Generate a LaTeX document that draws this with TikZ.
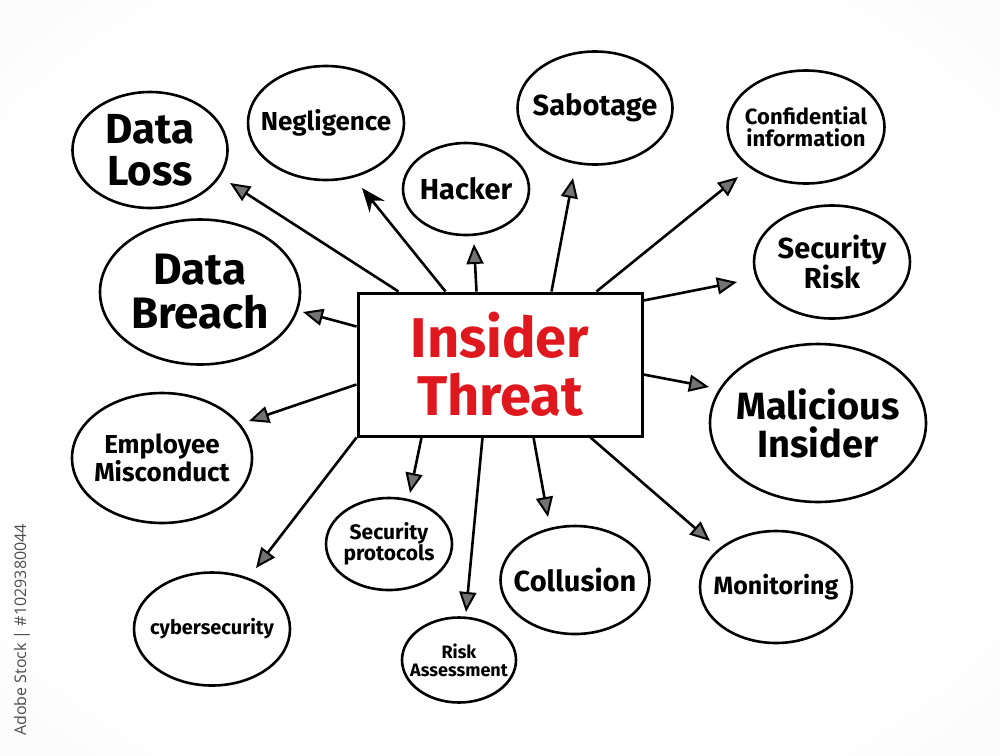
\documentclass[tikz,border=0pt]{standalone}
\usepackage{fontspec}
\setmainfont{Fira Sans}
\newfontfamily\wmfont{Open Sans}
\usetikzlibrary{shapes.geometric,arrows.meta,calc}
\definecolor{threatred}{RGB}{222,24,30}
\definecolor{bgedge}{RGB}{228,228,228}
\pgfdeclareradialshading{bgshade}{\pgfpoint{0bp}{0bp}}{color(0bp)=(white); color(28bp)=(white); color(72bp)=(bgedge)}
\tikzset{
  bubble/.style={draw=black, line width=2.6pt, ellipse, inner sep=0pt},
  lbl/.style={align=center, font=\bfseries, text=black},
  fs/.style={font=\bfseries\fontsize{#1}{#1}\selectfont},
  conn/.style={line width=2.6pt, -{Triangle[length=20pt,width=17pt,fill=black!55,line width=2pt]}},
  connsolid/.style={line width=2.6pt, -{Stealth[length=24pt,width=19pt,fill=black]}},
}
\begin{document}
\begin{tikzpicture}[x=1pt,y=-1pt]
\useasboundingbox (0,0) rectangle (1000,755);
\shade[shading=bgshade] (0,0) rectangle (1000,755);

% watermark
\node[rotate=90, anchor=west, inner sep=0pt, text=black!70, font=\wmfont\fontsize{16}{16}\selectfont] (wm) at (22,736) {Adobe Stock | \#1029380044};

% central box
\node[draw=black, line width=3pt, fill=white, minimum width=284pt, minimum height=143pt, inner sep=0pt] (main) at (500,364.5) {};
\node[align=center, text=threatred, font=\bfseries\fontsize{56}{58}\selectfont] (mainlbl) at (main) {Insider\\Threat};

% bubbles
\node[bubble, minimum width=155pt, minimum height=116pt] (dl) at (150,150) {};
\node[lbl, fs=42, align=center] at (dl) {\fontsize{42}{40}\selectfont Data\\Loss};

\node[bubble, minimum width=156pt, minimum height=114pt] (ng) at (326,123) {};
\node[lbl, fs=26] at (ng) {Negligence};

\node[bubble, minimum width=126pt, minimum height=92pt] (hk) at (466,189) {};
\node[lbl, fs=29] at (hk) {Hacker};

\node[bubble, minimum width=155pt, minimum height=113pt] (sb) at (595,108) {};
\node[lbl, fs=29] at (sb) {Sabotage};

\node[bubble, minimum width=157pt, minimum height=113pt] (ci) at (806,127) {};
\node[lbl, fs=22] at (ci) {\fontsize{22}{25}\selectfont Confidential\\information};

\node[bubble, minimum width=156pt, minimum height=113pt] (sr) at (832,262) {};
\node[lbl, fs=29] at (sr) {\fontsize{29}{31}\selectfont Security\\Risk};

\node[bubble, minimum width=200pt, minimum height=145pt] (db) at (200,292) {};
\node[lbl, fs=44] at (db) {\fontsize{44}{46}\selectfont Data\\Breach};

\node[bubble, minimum width=216pt, minimum height=158pt] (mi) at (818,423) {};
\node[lbl, fs=38] at (mi) {\fontsize{38}{42}\selectfont Malicious\\Insider};

\node[bubble, minimum width=180pt, minimum height=130pt] (em) at (162,458) {};
\node[lbl, fs=26] at (em) {\fontsize{26}{30}\selectfont Employee\\Misconduct};

\node[bubble, minimum width=126pt, minimum height=92pt] (sp) at (389,544) {};
\node[lbl, fs=21] at (sp) {\fontsize{21}{25}\selectfont Security\\protocols};

\node[bubble, minimum width=149pt, minimum height=108pt] (co) at (575,580) {};
\node[lbl, fs=29] at (co) {Collusion};

\node[bubble, minimum width=152pt, minimum height=112pt] (mo) at (776,587) {};
\node[lbl, fs=25] at (mo) {Monitoring};

\node[bubble, minimum width=156pt, minimum height=113pt] (cy) at (212,629) {};
\node[lbl, fs=20] at (cy) {cybersecurity};

\node[bubble, minimum width=114pt, minimum height=85pt] (ra) at (459,660) {};
\node[lbl, fs=18] at (ra) {\fontsize{18}{20}\selectfont Risk\\Assessment};

% arrow tips
\coordinate (tdl) at (230,183);
\coordinate (tng) at (362,188);
\coordinate (thk) at (474,244);
\coordinate (tsb) at (573,178);
\coordinate (tci) at (738,177);
\coordinate (tsr) at (737,282);
\coordinate (tdb) at (303,312);
\coordinate (tmi) at (709,387);
\coordinate (tem) at (249,421);
\coordinate (tcy) at (256,568);
\coordinate (tsp) at (410,493);
\coordinate (tra) at (466,612);
\coordinate (tco) at (548,517);
\coordinate (tmo) at (710,541);

% connectors
\draw[conn] ($(main.north west)+(42,0)$) -- (tdl);
\draw[connsolid] ($(main.north west)+(89,0)$) -- (tng);
\draw[conn] ($(main.north west)+(120,0)$) -- (thk);
\draw[conn] ($(main.north west)+(195,0)$) -- (tsb);
\draw[conn] ($(main.north west)+(240,0)$) -- (tci);
\draw[conn] ($(main.north east)+(0,9)$) -- (tsr);
\draw[conn] ($(main.north west)+(0,35)$) -- (tdb);
\draw[conn] ($(main.north east)+(0,83)$) -- (tmi);
\draw[conn] ($(main.north west)+(0,93)$) -- (tem);
\draw[conn] (main.south west) -- (tcy);
\draw[conn] ($(main.south west)+(65,0)$) -- (tsp);
\draw[conn] ($(main.south west)+(126,0)$) -- (tra);
\draw[conn] ($(main.south west)+(177,0)$) -- (tco);
\draw[conn] ($(main.south west)+(234,0)$) -- (tmo);
\end{tikzpicture}
\end{document}
